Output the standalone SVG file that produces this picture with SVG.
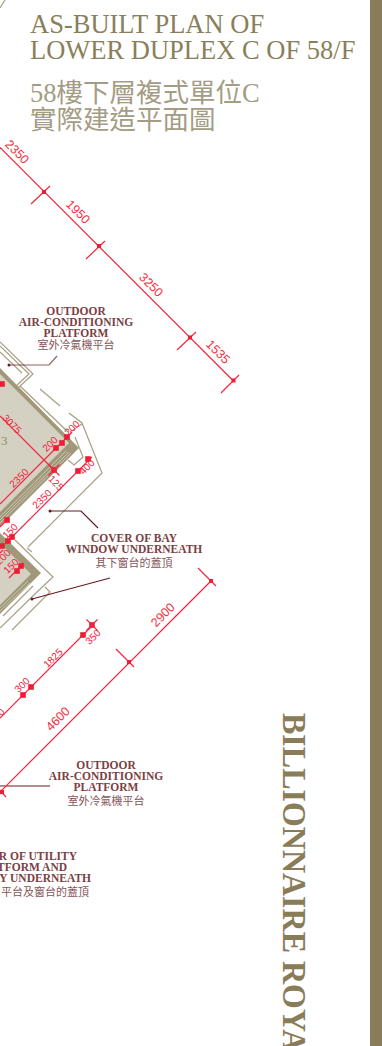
<svg xmlns="http://www.w3.org/2000/svg" width="382" height="1046" viewBox="0 0 382 1046">
<style>
.t{font-family:"Liberation Serif","Noto Sans CJK TC",serif;font-size:26.5px;fill:#8a7f5c}
.c{font-family:"Liberation Serif","Noto Sans CJK TC",serif;font-size:26.5px;fill:#a49c84}
.l{font-family:"Liberation Serif","Noto Sans CJK TC",serif;font-size:11.5px;font-weight:bold;fill:#7b3f44;text-anchor:middle}
.z{font-family:"Liberation Serif","Noto Sans CJK TC",serif;font-size:11px;fill:#85565a;text-anchor:middle}
.d{font-family:"Liberation Sans",sans-serif;font-size:12.5px;fill:#f0303f;text-anchor:middle}
.s{font-family:"Liberation Sans",sans-serif;font-size:10px;fill:#f0203a;text-anchor:middle}
.o{fill:none;stroke:#a89f85;stroke-width:1.2}
.r{fill:none;stroke:#f0283f;stroke-width:1.2}
.q{fill:#f01c35}
.k{fill:none;stroke:#6b1a20;stroke-width:1.2}
</style>
<defs>
<rect id="m" x="-2.800" y="-2.800" width="5.600" height="5.600" class="q"/>
<g id="x"><rect x="-2.800" y="-2.800" width="5.600" height="5.600" class="q"/><path d="M-5.500-5.500 5.500 5.500M-5.500 5.500 5.500-5.500" class="r"/></g>
</defs>
<rect id="band" x="370" y="0" width="12" height="1046" fill="#887c59"/>
<g id="title">
<text class="t" x="30" y="33">AS-BUILT PLAN OF</text>
<text class="t" x="30" y="59">LOWER DUPLEX C OF 58/F</text>
<text class="c" x="30" y="102">58樓下層複式單位C</text>
<text class="c" x="30" y="129">實際建造平面圖</text>
</g>
<text id="brand" transform="translate(283 713) rotate(90) scale(1 1.08)" font-family="Liberation Serif" font-weight="bold" font-size="32" fill="#887c59">BILLIONNAIRE ROYA</text>
<g id="plan">
<path d="M0 8 5 0" class="o"/>
<path d="M0 368 79 448 0 527Z" fill="#a09878"/>
<path d="M0 374 69 443 0 512Z" fill="#d4d1c3"/>
<path d="M0 517 66 451M0 520 69 452M0 523 71 453" fill="none" stroke="#c9c5b4" stroke-width="1"/>
<path d="M0 533 41 573 0 614Z" fill="#a09878"/>
<path d="M0 543 31 574 0 605Z" fill="#d4d1c3"/>
<path d="M0 608 28 581M0 611 30 583" fill="none" stroke="#c9c5b4" stroke-width="1"/>
<path d="M0 342 33 374 18 388M0 346 29 374 16 386M0 352 22 373" class="o"/>
<path d="M20 386 68 432M40 389 60 406M69 413 82 423 102 473 28 547M70 432 82 424M75 437 83 457 74 465 68 460" class="o"/>
<path d="M15 540 53 577 38 591 0 628M45 587 50 592 12 630M33 586 3 616M27 548 32 552" class="o"/>
<text x="1" y="445" font-family="Liberation Serif" font-size="13" fill="#8d8c6c">3</text>
</g>
<g id="connectors">
<path d="M9 365H49L57 356" class="k" stroke-opacity=".7"/><circle cx="9" cy="365" r="1.500" fill="#6b1a20"/>
<path d="M50 511H81L98 528" class="k"/><circle cx="50" cy="511" r="1.500" fill="#6b1a20"/>
<path d="M32 599 110 578" class="k"/><circle cx="32" cy="599" r="1.500" fill="#6b1a20"/>
<path d="M0 786H50" class="k"/>
<path d="M0 147.500 234 381.500" class="r"/>
<path d="M31 204 50 186M86 259 105 241M177 350 196 332M221 393 239 375" class="r"/>
<rect x="42" y="190" width="4" height="4" class="q"/><rect x="97" y="244" width="4" height="4" class="q"/><rect x="188" y="335.500" width="4" height="4" class="q"/><rect x="231.500" y="378.500" width="4" height="4" class="q"/>
<path d="M0 792 212 580" class="r"/>
<path d="M116 649 134 667M198 568 216 586M-3 787 6 797" class="r"/>
<rect x="127" y="660" width="4" height="4" class="q"/><rect x="209" y="579" width="4" height="4" class="q"/><rect x="0" y="790" width="4" height="4" class="q"/>
<path d="M0 416 55 471M0 504 72 432M5 544 92 457M0 527 7 520M0 553 3 550M9 578 24 563M0 718 92 626" class="r"/>
<use href="#m" x="2" y="384"/><use href="#x" x="54" y="470"/><use href="#m" x="56" y="448"/><use href="#m" x="62" y="443"/><use href="#m" x="67" y="437"/>
<use href="#m" x="78" y="471"/><use href="#m" x="88" y="459"/><use href="#m" x="7" y="520"/><use href="#m" x="12" y="537"/><use href="#m" x="8" y="541"/><use href="#m" x="2" y="546"/>
<use href="#m" x="21" y="566"/><use href="#m" x="17" y="571"/>
<use href="#x" x="92" y="625"/><use href="#m" x="83" y="635"/><use href="#m" x="31" y="687"/><use href="#m" x="23" y="695"/>
</g>
<g id="dims">
<text class="d" transform="translate(17 152) rotate(45)" dy="4">2350</text>
<text class="d" transform="translate(78 212) rotate(45)" dy="4">1950</text>
<text class="d" transform="translate(151 285) rotate(45)" dy="4">3250</text>
<text class="d" transform="translate(218 352) rotate(45)" dy="4">1535</text>
<text class="d" transform="translate(58 719) rotate(-45)" dy="4">4600</text>
<text class="d" transform="translate(163 615) rotate(-45)" dy="4">2900</text>
<text class="s" transform="translate(12 424) rotate(45)" dy="3.500" font-size="9">3075</text>
<text class="s" transform="translate(50 444) rotate(-45)" dy="3.500">200</text>
<text class="s" transform="translate(72 428) rotate(-45)" dy="3.500">200</text>
<text class="s" transform="translate(19 478) rotate(-45)" dy="3.500">2350</text>
<text class="s" transform="translate(42 499) rotate(-45)" dy="3.500">2350</text>
<text class="s" transform="translate(56 483) rotate(45)" dy="3.500">125</text>
<text class="s" transform="translate(87 467) rotate(-45)" dy="3.500">400</text>
<text class="s" transform="translate(10 531) rotate(-45)" dy="3.500">150</text>
<text class="s" transform="translate(3 557) rotate(-45)" dy="3.500">200</text>
<text class="s" transform="translate(11 566) rotate(-45)" dy="3.500">150</text>
<text class="s" transform="translate(53 658) rotate(-45)" dy="3.500">1825</text>
<text class="s" transform="translate(93 637) rotate(-45)" dy="3.500">350</text>
<text class="s" transform="translate(22 685) rotate(-45)" dy="3.500">300</text>
<text class="s" transform="translate(1 712) rotate(-45)" dy="3.500">0</text>
</g>
<g id="label-outdoor-1">
<text class="l" x="76" y="315">OUTDOOR</text><text class="l" x="76" y="326">AIR-CONDITIONING</text><text class="l" x="76" y="337">PLATFORM</text><text class="z" x="76" y="349">室外冷氣機平台</text>
</g>
<g id="label-bay">
<text class="l" x="134" y="542">COVER OF BAY</text><text class="l" x="134" y="553">WINDOW UNDERNEATH</text><text class="z" x="134" y="567">其下窗台的蓋頂</text>
</g>
<g id="label-outdoor-2">
<text class="l" x="106" y="769">OUTDOOR</text><text class="l" x="106" y="780">AIR-CONDITIONING</text><text class="l" x="106" y="791">PLATFORM</text><text class="z" x="106" y="805">室外冷氣機平台</text>
</g>
<g id="label-utility">
<text class="l" x="77" y="860" style="text-anchor:end">R OF UTILITY</text><text class="l" x="67" y="871" style="text-anchor:end">TFORM AND</text><text class="l" x="91" y="882" style="text-anchor:end">Y UNDERNEATH</text><text class="z" x="89" y="896" style="text-anchor:end">平台及窗台的蓋頂</text>
</g>
</svg>
